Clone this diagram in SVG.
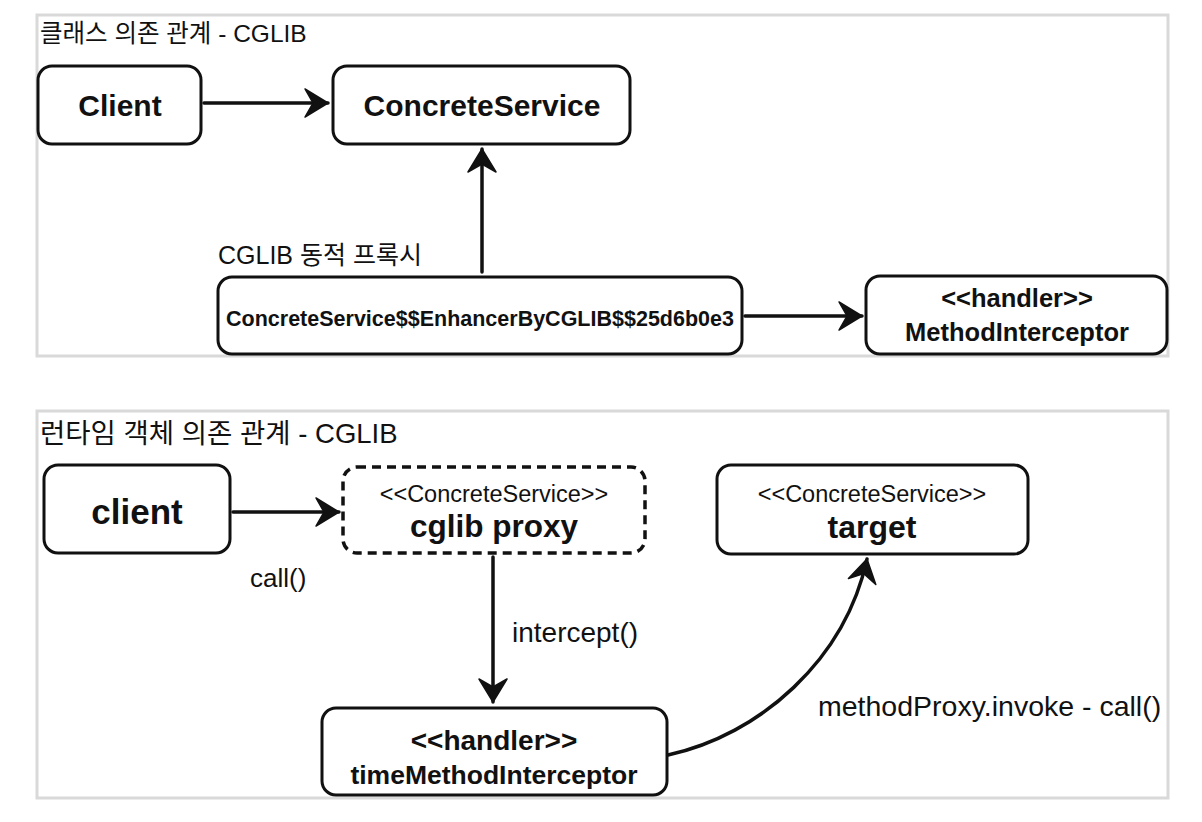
<svg xmlns="http://www.w3.org/2000/svg" width="1202" height="822" viewBox="0 0 1202 822">
  <style>
    .panel { fill: #ffffff; stroke: #d9d9d9; stroke-width: 3; }
    .box { fill: #ffffff; stroke: #111111; stroke-width: 3; }
    .dash { fill: #ffffff; stroke: #111111; stroke-width: 3.5; stroke-dasharray: 9 6; }
    .t { font-family: "Liberation Sans", "Noto Sans CJK KR", Arial, sans-serif; fill: #111111; }
    .b { font-weight: bold; text-anchor: middle; }
    .r { font-weight: normal; text-anchor: middle; }
    .lbl { font-weight: normal; }
    .edge { fill: none; stroke: #111111; stroke-width: 3.5; stroke-linecap: round; }
  </style>
  <defs>
    <marker id="head" viewBox="-26 -16 28 32" markerWidth="28" markerHeight="32" refX="0" refY="0" orient="auto" markerUnits="userSpaceOnUse">
      <path d="M0,0 L-23,-14 L-15,0 L-23,14 Z" fill="#111111" stroke="#111111" stroke-width="1.5" stroke-linejoin="round"/>
    </marker>
  </defs>
  <rect width="1202" height="822" fill="#ffffff"/>

  <g id="panel-class">
    <rect class="panel" x="37" y="15" width="1131" height="341"/>
    <text class="t lbl" x="40" y="42" font-size="24.5">클래스 의존 관계 - CGLIB</text>
  </g>
  <g id="panel-runtime">
    <rect class="panel" x="37" y="411" width="1131" height="387"/>
    <text class="t lbl" x="40" y="443" font-size="27.5">런타임 객체 의존 관계 - CGLIB</text>
  </g>

  <g id="edges">
    <line class="edge" x1="204" y1="103" x2="328" y2="103" marker-end="url(#head)"/>
    <line class="edge" x1="482" y1="272" x2="482" y2="149" marker-end="url(#head)"/>
    <line class="edge" x1="745" y1="316" x2="862" y2="316" marker-end="url(#head)"/>
    <line class="edge" x1="233" y1="512" x2="339" y2="512" marker-end="url(#head)"/>
    <line class="edge" x1="493" y1="557" x2="493" y2="702" marker-end="url(#head)"/>
    <path class="edge" d="M668,755 C760,735 845,660 867,559" marker-end="url(#head)"/>
    <text class="t lbl" x="218" y="264" font-size="25">CGLIB 동적 프록시</text>
    <text class="t lbl" x="250" y="587" font-size="26">call()</text>
    <text class="t lbl" x="512" y="642" font-size="28">intercept()</text>
    <text class="t lbl" x="818" y="716" font-size="28.5">methodProxy.invoke - call()</text>
  </g>

  <g id="node-client-class">
    <rect class="box" x="38" y="66" width="163" height="78" rx="14"/>
    <text class="t b" x="120" y="116" font-size="30">Client</text>
  </g>
  <g id="node-concreteservice">
    <rect class="box" x="333" y="66" width="297" height="78" rx="14"/>
    <text class="t b" x="482" y="116" font-size="30">ConcreteService</text>
  </g>
  <g id="node-enhancer">
    <rect class="box" x="218" y="277" width="524" height="77" rx="14"/>
    <text class="t b" x="480" y="326" font-size="21.5">ConcreteService$$EnhancerByCGLIB$$25d6b0e3</text>
  </g>
  <g id="node-methodinterceptor">
    <rect class="box" x="866" y="276" width="301" height="78" rx="14"/>
    <text class="t b" x="1017" y="307" font-size="25.5">&lt;&lt;handler&gt;&gt;</text>
    <text class="t b" x="1017" y="341" font-size="25.5">MethodInterceptor</text>
  </g>

  <g id="node-client">
    <rect class="box" x="44" y="465" width="186" height="88" rx="14"/>
    <text class="t b" x="137" y="524" font-size="35">client</text>
  </g>
  <g id="node-cglib-proxy">
    <rect class="dash" x="343" y="467" width="302" height="86" rx="14"/>
    <text class="t r" x="494" y="502" font-size="23.5">&lt;&lt;ConcreteService&gt;&gt;</text>
    <text class="t b" x="494" y="537" font-size="31.5">cglib proxy</text>
  </g>
  <g id="node-target">
    <rect class="box" x="717" y="465" width="311" height="89" rx="14"/>
    <text class="t r" x="872" y="502" font-size="23.5">&lt;&lt;ConcreteService&gt;&gt;</text>
    <text class="t b" x="872" y="538" font-size="32">target</text>
  </g>
  <g id="node-timemethodinterceptor">
    <rect class="box" x="322" y="708" width="345" height="87" rx="14"/>
    <text class="t b" x="494" y="750" font-size="28">&lt;&lt;handler&gt;&gt;</text>
    <text class="t b" x="494" y="784" font-size="26.5">timeMethodInterceptor</text>
  </g>
</svg>
